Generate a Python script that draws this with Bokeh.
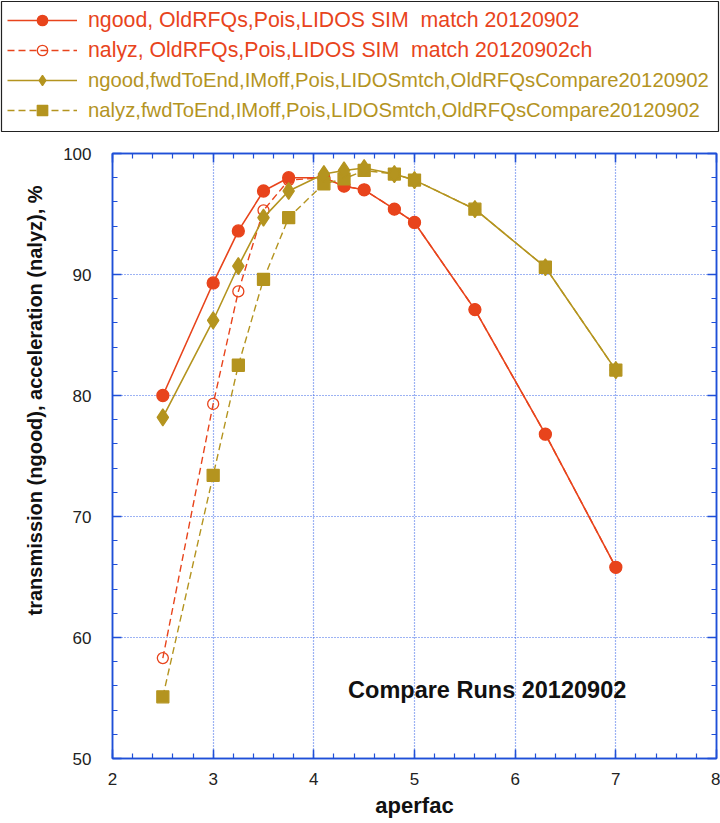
from bokeh.plotting import figure
from bokeh.layouts import column
from bokeh.models import (Legend, LegendItem, LinearAxis, Range1d, Label, FixedTicker)
from bokeh.embed import file_html
from bokeh.resources import INLINE
import numpy as np

# ---------------- data ----------------
aperfac = [2.5, 3.0, 3.25, 3.5, 3.75, 4.1, 4.3, 4.5, 4.8, 5.0, 5.6, 6.3, 7.0]
ngood_old = [80.0, 89.3, 93.6, 96.9, 98.0, 98.0, 97.3, 97.0, 95.4, 94.3, 87.1, 76.8, 65.8]
nalyz_old = [58.3, 79.3, 88.6, 95.3, 97.8, 98.0, 97.3, 97.0, 95.4, 94.3, 87.1, 76.8, 65.8]
ngood_fwd = [78.2, 86.2, 90.7, 94.7, 96.9, 98.3, 98.6, 98.8, 98.3, 97.8, 95.4, 90.6, 82.1]
nalyz_fwd = [55.1, 73.4, 82.5, 89.6, 94.7, 97.5, 97.9, 98.6, 98.3, 97.8, 95.4, 90.6, 82.1]

labels = [
    "ngood, OldRFQs,Pois,LIDOS SIM  match 20120902",
    "nalyz, OldRFQs,Pois,LIDOS SIM  match 20120902ch",
    "ngood,fwdToEnd,IMoff,Pois,LIDOSmtch,OldRFQsCompare20120902",
    "nalyz,fwdToEnd,IMoff,Pois,LIDOSmtch,OldRFQsCompare20120902",
]
x_ticks = [2, 3, 4, 5, 6, 7, 8]
y_ticks = [50, 60, 70, 80, 90, 100]
note_text = "Compare Runs 20120902"
y_title = "transmission (ngood), acceleration (nalyz), %"
x_title = "aperfac"

# ---------------- style ----------------
RED = "#E8441C"
GOLD = "#B4941F"
BLUE = "#1F4FD8"
GRID = "#3A66E8"
FONT = "Liberation Sans"

W = 720
LEG_H = 135
H = 823 - LEG_H
ML, MR, MT, MB = 112, 4, 18, 65

series_styles = [
    dict(color=RED, dash="solid", marker="circle", size=12, fill=RED, lw=1.6, fs="21.3px"),
    dict(color=RED, dash="7 4", marker="circle", size=11, fill=None, lw=1.4, fs="21.3px"),
    dict(color=GOLD, dash="solid", marker="diamond", size=17, fill=GOLD, lw=1.6, fs="20.3px"),
    dict(color=GOLD, dash="7 4", marker="square", size=12, fill=GOLD, lw=1.4, fs="20.3px"),
]
series_values = [ngood_old, nalyz_old, ngood_fwd, nalyz_fwd]

# ---------------- main plot ----------------
p = figure(width=W, height=H, output_backend="svg", toolbar_location=None,
           x_range=Range1d(2, 8), y_range=Range1d(50, 100),
           min_border_left=ML, min_border_right=MR, min_border_top=MT, min_border_bottom=MB)
p.frame_align = False
p.outline_line_color = BLUE
p.outline_line_width = 1.5
p.background_fill_color = "white"
p.border_fill_color = "white"

xt = FixedTicker(ticks=x_ticks, minor_ticks=list(np.arange(2, 8.001, 0.2)))
yt = FixedTicker(ticks=y_ticks, minor_ticks=list(np.arange(50, 100.001, 2)))

def style_axis(ax, ticks, show_labels):
    ax.axis_line_color = BLUE
    ax.axis_line_width = 1.5
    ax.major_tick_line_color = BLUE
    ax.minor_tick_line_color = BLUE
    ax.major_tick_line_width = 1.5
    ax.minor_tick_line_width = 1.2
    ax.major_tick_in = 9
    ax.major_tick_out = 0
    ax.minor_tick_in = 5
    ax.minor_tick_out = 0
    ax.major_label_text_font = FONT
    ax.major_label_text_font_size = "17px"
    ax.major_label_text_color = "#222222"
    if not show_labels:
        ax.major_label_overrides = {t: "" for t in ticks}
        ax.major_label_standoff = 0

xa = p.xaxis[0]
xa.ticker = xt
style_axis(xa, x_ticks, True)
xa.major_label_standoff = 14
xa.axis_label = x_title
xa.axis_label_text_font = FONT
xa.axis_label_text_font_style = "bold"
xa.axis_label_text_font_size = "22px"
xa.axis_label_text_color = "#111111"
xa.axis_label_standoff = 5

ya = p.yaxis[0]
ya.ticker = yt
style_axis(ya, y_ticks, True)
ya.major_label_standoff = 21
# leading no-break spaces shift the centred title upward, as in the original
ya.axis_label = "\u00a0" * 20 + y_title
ya.axis_label_text_font = FONT
ya.axis_label_text_font_style = "bold"
ya.axis_label_text_font_size = "20px"
ya.axis_label_text_color = "#111111"
ya.axis_label_standoff = 14

top = LinearAxis(ticker=xt)
style_axis(top, x_ticks, False)
p.add_layout(top, "above")
right = LinearAxis(ticker=yt)
style_axis(right, y_ticks, False)
p.add_layout(right, "right")

for g in (p.xgrid[0], p.ygrid[0]):
    g.grid_line_color = GRID
    g.grid_line_dash = "1 2"
    g.grid_line_width = 1.2
p.xgrid[0].ticker = xt
p.ygrid[0].ticker = yt

def add_series(fig, k):
    st = series_styles[k]
    ln = fig.line(aperfac, series_values[k], color=st["color"], line_width=st["lw"],
                  line_dash=st["dash"])
    sc = fig.scatter(aperfac, series_values[k], marker=st["marker"], size=st["size"],
                     line_color=st["color"], fill_color=st["fill"], line_width=1.3)
    return [ln, sc]

for k in [1, 0, 3, 2]:
    add_series(p, k)

p.add_layout(Label(x=4.34, y=55.7, text=note_text, text_font=FONT,
                   text_font_style="bold", text_font_size="23.5px",
                   text_color="#111111", text_align="left", text_baseline="middle"))

# ---------------- legend strip ----------------
# the strip's frame outline is the legend box; the same series are drawn on a
# range that keeps them out of view, so only their legend entries show
LB_L, LB_R, LB_T, LB_B = 1, 2, 1, 4
lf = figure(width=W, height=LEG_H, output_backend="svg", toolbar_location=None,
            x_range=Range1d(0, 1), y_range=Range1d(0, 1),
            x_axis_location=None, y_axis_location=None,
            min_border_left=LB_L, min_border_right=LB_R,
            min_border_top=LB_T, min_border_bottom=LB_B)
lf.frame_align = False
lf.grid.visible = False
lf.outline_line_color = "#222222"
lf.outline_line_width = 1.2
lf.background_fill_color = "white"
lf.border_fill_color = "white"

rends = [add_series(lf, k) for k in range(4)]

PAD, LH, SP, GW, STAND = 6, 26, 4, 70, 11
LF_FRAME_H = LEG_H - LB_T - LB_B
common = dict(orientation="vertical", padding=PAD, spacing=SP, label_height=LH,
              glyph_height=LH, glyph_width=GW, label_standoff=STAND, margin=0,
              label_text_font=FONT, border_line_alpha=0.0, background_fill_alpha=0.0)

for i, (l, r, st) in enumerate(zip(labels, rends, series_styles)):
    row_bottom = i * (LH + SP) + 2 * PAD + LH  # from frame top
    lg = Legend(items=[LegendItem(label=l, renderers=r)],
                location=(0, LF_FRAME_H - row_bottom),
                label_text_color=st["color"], label_text_font_size=st["fs"], **common)
    lf.add_layout(lg)

layout = column(lf, p, spacing=0)
open("out.html", "w").write(file_html(layout, INLINE))
